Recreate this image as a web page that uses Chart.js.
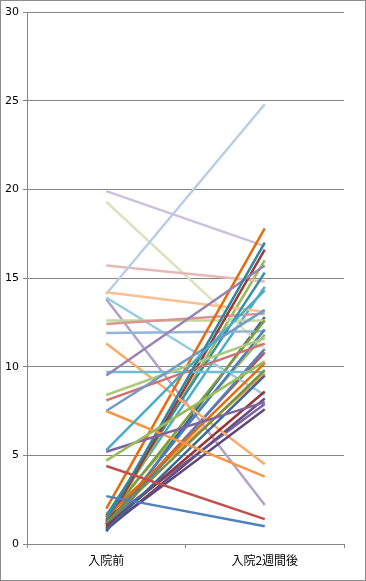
<!DOCTYPE html>
<html>
<head>
<meta charset="utf-8">
<script src="https://cdn.jsdelivr.net/npm/chart.js@4"></script>
<style>
  body { margin: 0; background: #fff; }
  #box { width: 364px; height: 579px; border: 1px solid #8c8c8c; }
</style>
</head>
<body>
<div id="box"><canvas id="myChart" width="364" height="579"></canvas></div>
<script>
const categories = ['入院前', '入院2週間後'];
const yTicks = [0, 5, 10, 15, 20, 25, 30];

// value before admission / value after 2 weeks, one entry per patient
const before = [2.7, 4.4, 4.7, 5.2, 5.3, 7.5, 0.8, 1.0, 1.2, 0.9, 1.3, 1.5,
                7.5, 8.1, 8.4, 9.5, 9.7, 11.3, 1.0, 1.1, 1.4, 0.8, 1.6, 2.0,
                11.9, 12.4, 12.6, 13.8, 13.9, 14.2, 14.1, 15.7, 19.3, 19.9,
                0.9, 1.2, 1.1, 1.3, 1.5, 1.7, 0.7, 1.6];
const after = [1.0, 1.4, 10.3, 8.0, 14.3, 3.8, 9.5, 8.6, 9.8, 7.6, 17.0, 10.2,
               13.2, 11.3, 11.6, 15.7, 9.7, 4.5, 12.1, 16.6, 12.6, 8.2, 15.3, 17.8,
               12.0, 13.0, 12.6, 2.2, 8.4, 13.1, 24.8, 14.8, 11.0, 16.8,
               11.0, 10.8, 16.0, 7.9, 14.5, 9.6, 12.8, 11.8];

const colors = ['#4F81BD', '#C0504D', '#9BBB59', '#8064A2', '#4BACC6', '#F79646',
                '#3A679C', '#953735', '#76923C', '#5F497A', '#31859C', '#E46C0A',
                '#729ACA', '#CD7371', '#AFC97A', '#9983B5', '#6FBDD1', '#F9AB6B',
                '#4A7EBB', '#9E3A38', '#7E9C40', '#664F83', '#358EA6', '#E46C0A',
                '#95B3D7', '#D99694', '#C3D69B', '#B3A2C7', '#93CDDD', '#FAC090',
                '#B9CDE5', '#E6B9B8', '#D7E4BD', '#CCC1DA',
                '#4F81BD', '#C0504D', '#9BBB59', '#8064A2', '#4BACC6', '#F79646',
                '#3A679C', '#9BBB59'];

const datasets = before.map((b, i) => ({
  label: 'No.' + (i + 1),
  data: [b, after[i]],
  borderColor: colors[i],
  backgroundColor: colors[i],
  borderWidth: 2.5,
  pointRadius: 0,
  tension: 0,
  fill: false
}));

const ctx = document.getElementById('myChart');

new Chart(ctx, {
  type: 'line',
  data: {
    labels: categories,
    datasets: datasets
  },
  options: {
    responsive: false,
    animation: false,
    layout: { padding: { top: 11, right: 21, left: 1, bottom: 0 } },
    plugins: {
      legend: { display: false },
      tooltip: { enabled: false }
    },
    scales: {
      x: {
        offset: true,
        grid: {
          offset: true,
          drawOnChartArea: false,
          drawTicks: true,
          tickLength: 4,
          color: '#868686'
        },
        border: { color: '#868686' },
        ticks: {
          color: '#000',
          padding: 5,
          font: { family: '"Noto Sans CJK JP", sans-serif', size: 12 }
        },
        afterFit: function (scale) { scale.height = 36; }
      },
      y: {
        min: 0,
        max: 30,
        afterBuildTicks: function (scale) {
          scale.ticks = yTicks.map(v => ({ value: v }));
        },
        grid: {
          color: '#868686',
          tickLength: 4
        },
        border: { color: '#868686' },
        ticks: {
          color: '#000',
          padding: 4,
          font: { family: 'Tahoma, "DejaVu Sans", sans-serif', size: 11 }
        },
        afterFit: function (scale) { scale.width = 25; }
      }
    }
  }
});
</script>
</body>
</html>
